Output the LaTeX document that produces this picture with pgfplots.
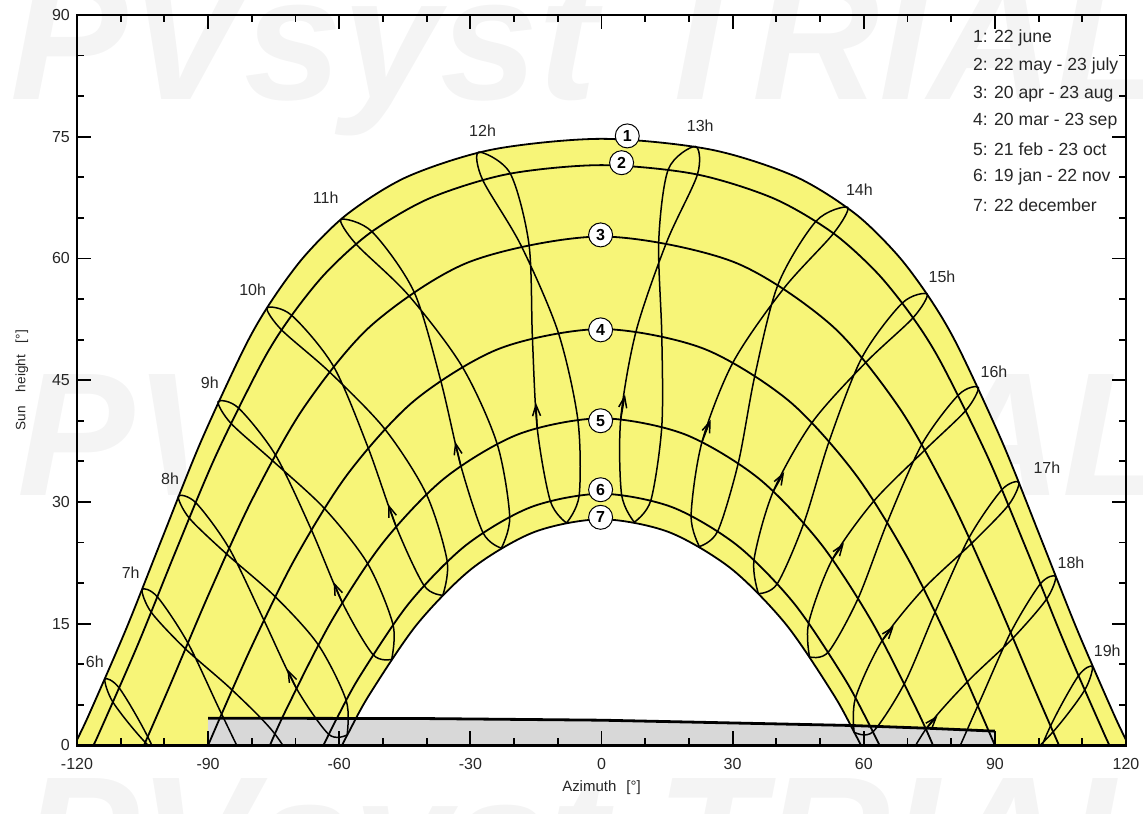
\documentclass[border=0pt]{standalone}
\usepackage{fontspec}
\setmainfont{Liberation Sans}
\usepackage{pgfplots}
\pgfplotsset{compat=1.18}
\usetikzlibrary{arrows.meta}

\definecolor{sunyellow}{RGB}{247,245,120}
\definecolor{horgray}{RGB}{216,216,216}
\definecolor{wmgray}{RGB}{244,244,244}

\begin{document}
\begin{tikzpicture}[font=\fontsize{8}{9.6}\selectfont]
% trial watermark, behind everything
\begin{scope}[every node/.style={font=\fontsize{88}{88}\selectfont\bfseries\itshape,text=wmgray,anchor=base west,inner sep=0pt}]
\node at (-33.5pt,323pt) {PVsyst TRIAL};
\node at (-30pt,125pt) {PVsyst TRIAL};
\node at (-28pt,-77pt) {PVsyst TRIAL};
\end{scope}

\begin{axis}[
  at={(0,0)}, anchor=south west,
  scale only axis, width=525pt, height=365.5pt,
  xmin=-120, xmax=120, ymin=0, ymax=90,
  xtick={-120,-90,...,120}, ytick={0,15,...,90},
  minor x tick num=2, minor y tick num=2,
  tick align=inside,
  major tick length=7pt, minor tick length=3.5pt,
  every tick/.style={black, line width=0.9pt},
  axis line style={line width=1.3pt},
  tick label style={font=\fontsize{8}{9.6}\selectfont, text=black!85},
  xticklabel style={yshift=-3pt},
  /pgf/number format/assume math mode=true,
  xlabel={Azimuth\hspace{5pt}[°]},
  ylabel={Sun\hspace{7pt}height\hspace{6pt}[°]},
  every axis x label/.style={at={(axis description cs:0.5,-0.0575)},anchor=center,font=\fontsize{7.5}{9}\selectfont,text=black!85},
  every axis y label/.style={at={(axis description cs:-0.0524,0.5)},rotate=90,anchor=center,font=\fontsize{6.8}{8}\selectfont,text=black!85},
  clip mode=individual,
  axis on top,
  sunpath/.style={black, line width=0.9pt, smooth},
  hourline/.style={black, line width=0.75pt, smooth},
  dirarrow/.style={black, line width=0.75pt, -{Straight Barb[length=5.5pt,width=4pt]}},
]

% yellow band: inside the 22 june path, minus the 22 december path
\addplot[fill=sunyellow, draw=none, smooth] coordinates {
 (-120.64,0) (-117.38,3.63) (-108.7,14.4) (-100.36,25.72) (-91.7,37.35) (-81.66,49.03) (-75.49,54.77)
 (-67.9,60.31) (-58.0,65.53) (-44.27,70.11) (-24.88,73.43) (0,74.74) (24.88,73.43) (44.27,70.11) (58.0,65.53)
 (67.9,60.31) (75.49,54.77) (81.66,49.03) (91.7,37.35) (100.36,25.72) (108.7,14.4) (117.38,3.63) (120.64,0)};
\addplot[fill=white, draw=none, smooth] coordinates {
 (-59.36,0) (-57.98,1.45) (-53.07,6.27) (-42.18,14.93) (-29.61,21.8) (-15.36,26.29) (0,27.86)
 (15.36,26.29) (29.61,21.8) (42.18,14.93) (53.07,6.27) (57.98,1.45) (59.36,0)};

% far shading (horizon)
\addplot[fill=horgray, draw=none] coordinates {
 (-90,0) (-90,3.35) (-40,3.3) (0,3.1) (22,2.85) (57,2.45) (75,2.1) (90,1.75) (90,0)};

% hour lines (legal time), dates: dec jan feb mar apr may jun jul aug sep oct nov dec
\addplot[hourline] coordinates {(-75.6,-20.2) (-80.1,-20.7) (-88.5,-15.9) (-96.3,-7.83) (-103.8,1.06) (-110.3,7.05) (-113.6,8.15) (-111.7,5.27) (-104.4,0.38) (-93.9,-4.88) (-83.9,-10.1) (-76.6,-16.0) (-75.6,-20.2)};
\addplot[hourline] coordinates {(-67.2,-9.11) (-71.5,-9.4) (-79.3,-4.24) (-86.9,3.86) (-94.6,12.6) (-101.6,18.3) (-105.1,19.2) (-103.0,16.4) (-95.2,11.9) (-84.5,6.82) (-74.7,1.39) (-67.8,-4.9) (-67.2,-9.11)};
\addplot[hourline] coordinates {(-58.2,1.28) (-62.4,1.36) (-69.8,7.04) (-77.2,15.4) (-85.2,24.3) (-92.8,29.9) (-96.8,30.7) (-94.3,28.0) (-85.8,23.6) (-74.6,18.3) (-64.8,12.4) (-58.4,5.53) (-58.2,1.28)};
\addplot[hourline] coordinates {(-48.0,10.6) (-52.3,11.2) (-59.3,17.6) (-66.4,26.6) (-74.6,35.8) (-83.1,41.6) (-87.7,42.35) (-84.8,39.7) (-75.3,35.1) (-63.4,29.2) (-53.5,22.4) (-47.7,14.9) (-48.0,10.6)};
\addplot[hourline] coordinates {(-36.3,18.5) (-40.6,19.7) (-47.0,27.0) (-53.4,36.7) (-61.3,46.7) (-70.9,53.0) (-76.5,53.9) (-73.2,51.2) (-62.2,46.0) (-49.6,39.0) (-40.1,31.0) (-35.3,22.7) (-36.3,18.5)};
\addplot[hourline] coordinates {(-22.9,24.3) (-27.1,26.2) (-32.2,34.5) (-36.8,45.0) (-42.9,55.9) (-52.5,63.3) (-59.6,64.8) (-56.2,61.8) (-44.2,55.5) (-31.9,46.7) (-23.9,37.2) (-21.0,28.2) (-22.9,24.3)};
\addplot[hourline] coordinates {(-8.0,27.4) (-11.7,30.1) (-14.7,39.1) (-15.8,50.2) (-16.6,61.8) (-20.9,70.5) (-28.1,73.1) (-27.2,69.7) (-18.4,61.6) (-9.9,50.9) (-5.4,40.1) (-5.1,30.8) (-8.0,27.4)};
\addplot[hourline] coordinates {(7.5,27.5) (4.6,30.9) (4.4,40.2) (7.9,51.0) (14.9,62.0) (21.95,70.35) (21.5,73.8) (15.3,71.0) (13.1,62.15) (13.8,50.5) (13.8,39.3) (11.3,30.2) (7.5,27.5)};
\addplot[hourline] coordinates {(22.4,24.5) (20.5,28.3) (23.0,37.4) (30.1,47.2) (41.7,56.3) (53.1,63.1) (56.3,66.3) (49.1,64.6) (40.4,56.8) (35.1,45.6) (31.3,34.8) (26.6,26.4) (22.4,24.5)};
\addplot[hourline] coordinates {(35.9,18.7) (34.9,22.9) (39.3,31.3) (48.2,39.8) (60.5,47.2) (71.3,52.7) (74.5,55.6) (68.8,54.5) (59.6,47.8) (52.1,37.5) (46.3,27.4) (40.2,19.9) (35.9,18.7)};
\addplot[hourline] coordinates {(47.6,10.9) (47.4,15.1) (52.8,22.9) (62.3,30.1) (74.0,36.4) (83.4,41.3) (86.2,44.1) (81.7,43.2) (73.3,37.1) (65.4,27.5) (58.7,18.1) (51.9,11.5) (47.6,10.9)};
\addplot[hourline] coordinates {(57.8,1.62) (58.1,5.83) (64.2,12.9) (73.7,19.3) (84.7,24.9) (93.1,29.6) (95.5,32.4) (91.6,31.5) (84.1,25.6) (76.3,16.4) (69.3,7.62) (62.1,1.67) (57.8,1.62)};
\addplot[hourline] coordinates {(66.9,-8.75) (67.6,-4.57) (74.2,1.99) (83.7,7.83) (94.1,13.2) (101.8,18.0) (103.9,20.8) (100.4,19.9) (93.6,13.9) (86.1,4.88) (78.8,-3.62) (71.2,-9.06) (66.9,-8.75)};
\addplot[hourline] coordinates {(75.3,-19.8) (76.3,-15.7) (83.5,-9.48) (93.1,-3.86) (103.3,1.66) (110.5,6.77) (112.3,9.7) (109.1,8.56) (102.7,2.35) (95.5,-6.82) (88.0,-15.2) (79.8,-20.4) (75.3,-19.8)};

% direction arrows (feb -> mar)
\addplot[dirarrow] coordinates {(-69.8,7.04) (-71.87,9.38)};
\addplot[dirarrow] coordinates {(-59.3,17.6) (-61.29,20.12)};
\addplot[dirarrow] coordinates {(-47.0,27.0) (-48.79,29.72)};
\addplot[dirarrow] coordinates {(-32.2,34.5) (-33.49,37.44)};
\addplot[dirarrow] coordinates {(-14.7,39.1) (-15.01,42.21)};
\addplot[dirarrow] coordinates {(4.4,40.2) (5.38,43.22)};
\addplot[dirarrow] coordinates {(23.0,37.4) (24.99,40.14)};
\addplot[dirarrow] coordinates {(39.3,31.3) (41.79,33.68)};
\addplot[dirarrow] coordinates {(52.8,22.9) (55.46,24.92)};
\addplot[dirarrow] coordinates {(64.2,12.9) (66.86,14.69)};
\addplot[dirarrow] coordinates {(74.2,1.99) (76.86,3.63)};

% sun paths 1..7
\addplot[sunpath] coordinates {(-120.64,0) (-117.38,3.63) (-108.7,14.4) (-100.36,25.72) (-91.7,37.35) (-81.66,49.03) (-75.49,54.77) (-67.9,60.31) (-58.0,65.53) (-44.27,70.11) (-24.88,73.43) (0,74.74) (24.88,73.43) (44.27,70.11) (58.0,65.53) (67.9,60.31) (75.49,54.77) (81.66,49.03) (91.7,37.35) (100.36,25.72) (108.7,14.4) (117.38,3.63) (120.64,0)};
\addplot[sunpath] coordinates {(-116.26,0) (-114.92,1.51) (-106.02,12.47) (-97.4,23.92) (-88.31,35.6) (-77.64,47.21) (-71.06,52.84) (-63.04,58.23) (-52.8,63.2) (-39.25,67.43) (-21.42,70.4) (0,71.5) (21.42,70.4) (39.25,67.43) (52.8,63.2) (63.04,58.23) (71.06,52.84) (77.64,47.21) (88.31,35.6) (97.4,23.92) (106.02,12.47) (114.92,1.51) (116.26,0)};
\addplot[sunpath] coordinates {(-104.67,0) (-98.94,7.1) (-89.73,18.76) (-79.83,30.4) (-68.06,41.65) (-52.48,51.83) (-30.09,59.6) (0,62.7) (30.09,59.6) (52.48,51.83) (68.06,41.65) (79.83,30.4) (89.73,18.76) (98.94,7.1) (104.67,0)};
\addplot[sunpath] coordinates {(-90,0) (-80.49,11.65) (-70.15,22.97) (-57.98,33.49) (-42.72,42.52) (-23.2,48.92) (0,51.3) (23.2,48.92) (42.72,42.52) (57.98,33.49) (70.15,22.97) (80.49,11.65) (90,0)};
\addplot[sunpath] coordinates {(-75.85,0) (-72.02,4.53) (-61.8,15.29) (-49.98,24.98) (-35.81,32.96) (-18.91,38.36) (0,40.3) (18.91,38.36) (35.81,32.96) (49.98,24.98) (61.8,15.29) (72.02,4.53) (75.85,0)};
\addplot[sunpath] coordinates {(-63.61,0) (-60.26,3.62) (-55.22,8.57) (-44.06,17.49) (-31.06,24.64) (-16.17,29.35) (0,31.0) (16.17,29.35) (31.06,24.64) (44.06,17.49) (55.22,8.57) (60.26,3.62) (63.61,0)};
\addplot[sunpath] coordinates {(-59.36,0) (-57.98,1.45) (-53.07,6.27) (-42.18,14.93) (-29.61,21.8) (-15.36,26.29) (0,27.86) (15.36,26.29) (29.61,21.8) (42.18,14.93) (53.07,6.27) (57.98,1.45) (59.36,0)};

% horizon line
\addplot[black, line width=1.4pt] coordinates {(-90,3.35) (-40,3.3) (0,3.1) (22,2.85) (57,2.45) (75,2.1) (90,1.75)};

% hour labels
\begin{scope}[every node/.style={text=black!85}]
\node at (axis cs:-115.9,10.3) {6h};
\node at (axis cs:-107.7,21.3) {7h};
\node at (axis cs:-98.7,32.8) {8h};
\node at (axis cs:-89.6,44.7) {9h};
\node at (axis cs:-79.8,56.1) {10h};
\node at (axis cs:-63.1,67.5) {11h};
\node at (axis cs:-27.2,75.7) {12h};
\node at (axis cs:22.6,76.3) {13h};
\node at (axis cs:59.0,68.5) {14h};
\node at (axis cs:77.9,57.7) {15h};
\node at (axis cs:89.8,46.0) {16h};
\node at (axis cs:101.9,34.2) {17h};
\node at (axis cs:107.4,22.5) {18h};
\node at (axis cs:115.7,11.7) {19h};
\end{scope}

% numbered paths
\begin{scope}[every node/.style={circle,draw=black,fill=white,line width=0.5pt,minimum size=12pt,inner sep=0pt,font=\fontsize{8}{9}\selectfont\bfseries}]
\node at (axis cs:5.9,75.1) {1};
\node at (axis cs:4.6,71.8) {2};
\node at (axis cs:-0.2,62.9) {3};
\node at (axis cs:-0.2,51.2) {4};
\node at (axis cs:-0.2,40.0) {5};
\node at (axis cs:-0.2,31.5) {6};
\node at (axis cs:-0.2,28.1) {7};
\end{scope}

% date list
\begin{scope}[every node/.style={anchor=west,inner sep=0pt,text=black!85,font=\fontsize{8.8}{10}\selectfont}]
\node at (axis cs:84.9,87.2) {1: 22 june};
\node at (axis cs:84.9,83.7) {2: 22 may - 23 july};
\node at (axis cs:84.9,80.3) {3: 20 apr - 23 aug};
\node at (axis cs:84.9,76.9) {4: 20 mar - 23 sep};
\node at (axis cs:84.9,73.5) {5: 21 feb - 23 oct};
\node at (axis cs:84.9,70.0) {6: 19 jan - 22 nov};
\node at (axis cs:84.9,66.6) {7: 22 december};
\end{scope}
\end{axis}

\pgfresetboundingbox
\path[use as bounding box] (-38.5pt,-34pt) rectangle (533.5pt,373pt);
\end{tikzpicture}
\end{document}
